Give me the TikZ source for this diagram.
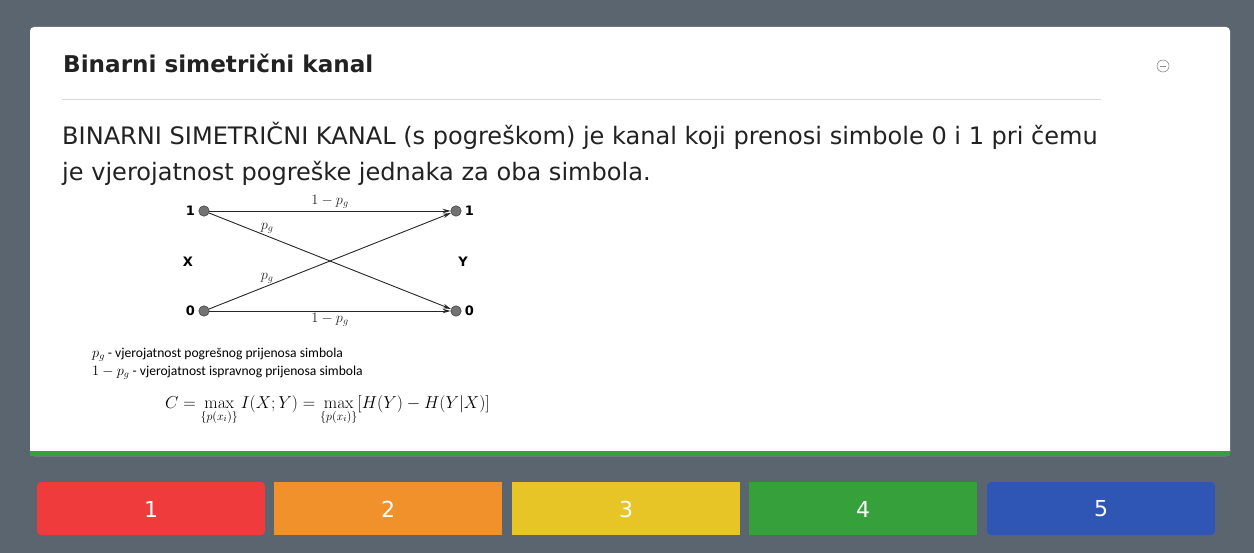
\documentclass[tikz,border=0pt]{standalone}
\usepackage{amsmath}
\usepackage[no-math]{fontspec}
\setmainfont{DejaVu Sans}
\newfontfamily\legendfont{Carlito}
\usetikzlibrary{calc,arrows.meta}
\definecolor{pagebg}{RGB}{91,101,112}
\definecolor{btnred}{RGB}{239,59,59}
\definecolor{btnorange}{RGB}{240,145,43}
\definecolor{btnyellow}{RGB}{232,197,39}
\definecolor{btngreen}{RGB}{54,160,58}
\definecolor{btnblue}{RGB}{47,85,181}
\definecolor{titlegray}{RGB}{34,34,34}
\tikzset{
  dot/.style={circle, draw=black!85, fill=black!55, inner sep=0pt, minimum size=10.5pt},
  chan/.style={-{Stealth[length=8pt,width=4.5pt]}, black!85, line width=0.9pt},
  sym/.style={font=\bfseries\fontsize{13}{15}\selectfont},
  prob/.style={font=\fontsize{14}{16}\selectfont, inner sep=2pt},
  btnlabel/.style={text=white, font=\fontsize{22}{26}\selectfont}
}

\begin{document}
\begin{tikzpicture}[x=1pt, y=-1pt]
			%%%%% START %%%%%
			
			\fill[pagebg] (0, 0) rectangle (1254, 553);
			\useasboundingbox (0, 0) rectangle (1254, 553);
			
			% card
			\fill[white, rounded corners=4pt] (30, 27) rectangle (1230, 456);
			\fill[btngreen] (30, 451) rectangle (1230, 456);
			
			\node[anchor=west, inner sep=0pt, text=titlegray, font=\bfseries\fontsize{23.1}{26}\selectfont] (title) at (63, 63) {Binarni simetrični kanal};
			\draw[black!15, line width=1pt] (62, 100) -- (1101, 100);
			\node[circle, draw=black!45, line width=0.6pt, minimum size=12pt, inner sep=0pt] (minus) at (1163, 66) {};
			\draw[black!45, line width=0.6pt] ($(minus)+(-3, 0)$) -- ($(minus)+(3, 0)$);
			
			\node[anchor=west, inner sep=0pt, text=titlegray, font=\fontsize{24.05}{36}\selectfont, align=left] (intro) at (62, 154)
			  {BINARNI SIMETRIČNI KANAL (s pogreškom) je kanal koji prenosi simbole 0 i 1 pri čemu\\
			   je vjerojatnost pogreške jednaka za oba simbola.};
			
			% channel
			\node[dot] (x1) at (204, 211) {};
			\node[dot] (x0) at (204, 311) {};
			\node[dot] (y1) at (456, 211) {};
			\node[dot] (y0) at (456, 311) {};
			\node[sym, anchor=east] (lx1) at (x1.west) {1};
			\node[sym, anchor=east] (lx0) at (x0.west) {0};
			\node[sym, anchor=west] (ly1) at (y1.east) {1};
			\node[sym, anchor=west] (ly0) at (y0.east) {0};
			\node[sym] (X) at (188, 262) {X};
			\node[sym] (Y) at (463, 262) {Y};
			
			\draw[chan] (x1) -- node[prob, above] {$1-p_g$} (y1);
			\draw[chan] (x0) -- node[prob, below] {$1-p_g$} (y0);
			\draw[chan] (x1) -- node[prob, pos=0.24, above] {$p_g$} (y0);
			\draw[chan] (x0) -- node[prob, pos=0.24, above] {$p_g$} (y1);
			
			% legend
			\node[anchor=west, inner sep=0pt, font=\legendfont\fontsize{13.6}{18}\selectfont, align=left] (legend) at (92, 364)
			  {$p_g$ - vjerojatnost pogrešnog prijenosa simbola\\
			   $1-p_g$ - vjerojatnost ispravnog prijenosa simbola};
			\node[anchor=west, inner sep=0pt, font=\fontsize{17.5}{20}\selectfont] (formula) at (165, 410)
			  {$C=\max\limits_{\{p(x_i)\}} I(X;Y)=\max\limits_{\{p(x_i)\}}[H(Y)-H(Y|X)]$};
			
			% buttons
			\fill[btnred, rounded corners=4pt] (37, 482) rectangle (265, 535);
			\fill[btnorange] (274, 482) rectangle (502, 535);
			\fill[btnyellow] (512, 482) rectangle (740, 535);
			\fill[btngreen] (749, 482) rectangle (977, 535);
			\fill[btnblue, rounded corners=4pt] (987, 482) rectangle (1215, 535);
			\node[btnlabel] (b1) at (151, 509) {1};
			\node[btnlabel] (b2) at (388, 509) {2};
			\node[btnlabel] (b3) at (626, 509) {3};
			\node[btnlabel] (b4) at (863, 509) {4};
			\node[btnlabel] (b5) at (1101, 509) {5};
			
			%%%%% END %%%%%
\end{tikzpicture}
\end{document}
